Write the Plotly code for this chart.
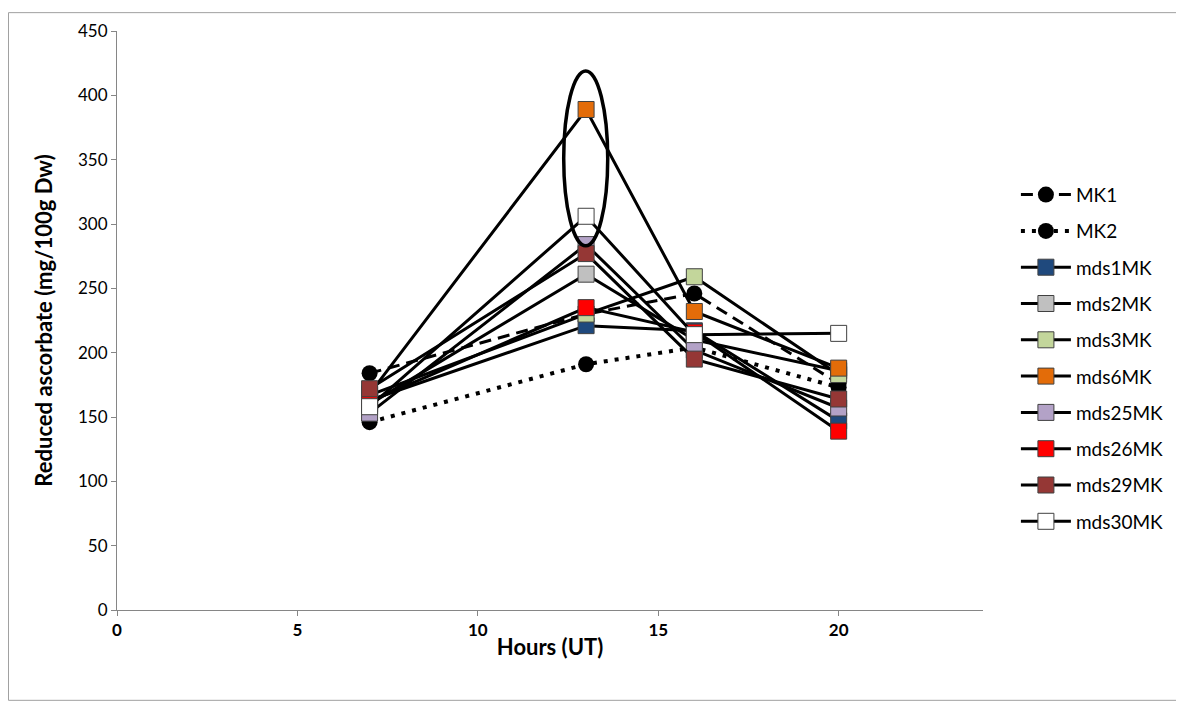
import plotly.graph_objects as go

# Hours of sampling
hours = [7, 13, 16, 20]

# Reduced ascorbate (mg/100g Dw) per line
MK1 = [184, 230, 246, 176]
MK2 = [146, 191, 204, 173]
mds1MK = [163, 221, 217, 147]
mds2MK = [160, 261, 210, 186]
mds3MK = [167, 230, 259, 183]
mds6MK = [168, 389, 232, 188]
mds25MK = [153, 284, 202, 157]
mds26MK = [162, 235, 216, 139]
mds29MK = [172, 277, 195, 164]
mds30MK = [158, 306, 214, 215]

series_names = ["mds1MK", "mds2MK", "mds3MK", "mds6MK", "mds25MK",
                "mds26MK", "mds29MK", "mds30MK"]
series_vals = [mds1MK, mds2MK, mds3MK, mds6MK, mds25MK,
               mds26MK, mds29MK, mds30MK]
series_cols = ["#1F497D", "#C0C0C0", "#C3D69B", "#E36C09", "#B3A2C7",
               "#FF0000", "#953735", "#FFFFFF"]

FONT = "Lato"
AXCOL = "#868686"

fig = go.Figure()

fig.add_trace(go.Scatter(
    x=hours, y=MK1, name="MK1", mode="lines+markers", legendgroup="a",
    line=dict(color="black", width=3, dash="12px,7px"),
    marker=dict(symbol="circle", size=16, color="black")))
fig.add_trace(go.Scatter(
    x=hours, y=MK2, name="MK2", mode="lines+markers", legendgroup="b",
    line=dict(color="black", width=4, dash="4px,7px"),
    marker=dict(symbol="circle", size=16, color="black")))

for i, (nm, vals, col) in enumerate(zip(series_names, series_vals, series_cols)):
    fig.add_trace(go.Scatter(
        x=hours, y=vals, name=nm, mode="lines+markers", legendgroup="g%d" % i,
        line=dict(color="black", width=3),
        marker=dict(symbol="square", size=16, color=col,
                    line=dict(color="#404040", width=1))))

# ellipse around the 13h peak
fig.add_shape(type="circle", xref="x", yref="y",
              x0=12.38, x1=13.6, y0=283, y1=419,
              line=dict(color="black", width=3.5))

# outer chart border
fig.add_shape(type="rect", xref="paper", yref="paper",
              x0=-0.1253, x1=1.2298, y0=-0.156, y1=1.0317,
              line=dict(color="#A0A0A0", width=1))

fig.update_layout(
    width=1176, height=696,
    margin=dict(l=109, r=201, t=19, b=94),
    paper_bgcolor="white", plot_bgcolor="white",
    font=dict(family=FONT, size=17, color="black"),
    showlegend=True,
    legend=dict(x=1.038, y=0.75, xanchor="left", yanchor="top",
                font=dict(family=FONT, size=19), tracegroupgap=8.6,
                itemwidth=50, traceorder="grouped"),
    xaxis=dict(range=[0, 24], tickvals=[0, 5, 10, 15, 20],
               showgrid=False, zeroline=False, showline=True,
               linecolor=AXCOL, linewidth=1, ticks="outside", ticklen=5,
               tickcolor=AXCOL, tickfont=dict(family=FONT, size=17, weight="bold"),
               title=dict(text="<b>Hours (UT)</b>", font=dict(family=FONT, size=22),
                          standoff=0)),
    yaxis=dict(range=[0, 450], dtick=50,
               showgrid=False, zeroline=False, showline=True,
               linecolor=AXCOL, linewidth=1, ticks="outside", ticklen=5,
               tickcolor=AXCOL, tickfont=dict(family=FONT, size=17),
               title=dict(text="<b>Reduced ascorbate (mg/100g Dw)</b>",
                          font=dict(family=FONT, size=22), standoff=19)),
)

fig.write_html("out.html")
